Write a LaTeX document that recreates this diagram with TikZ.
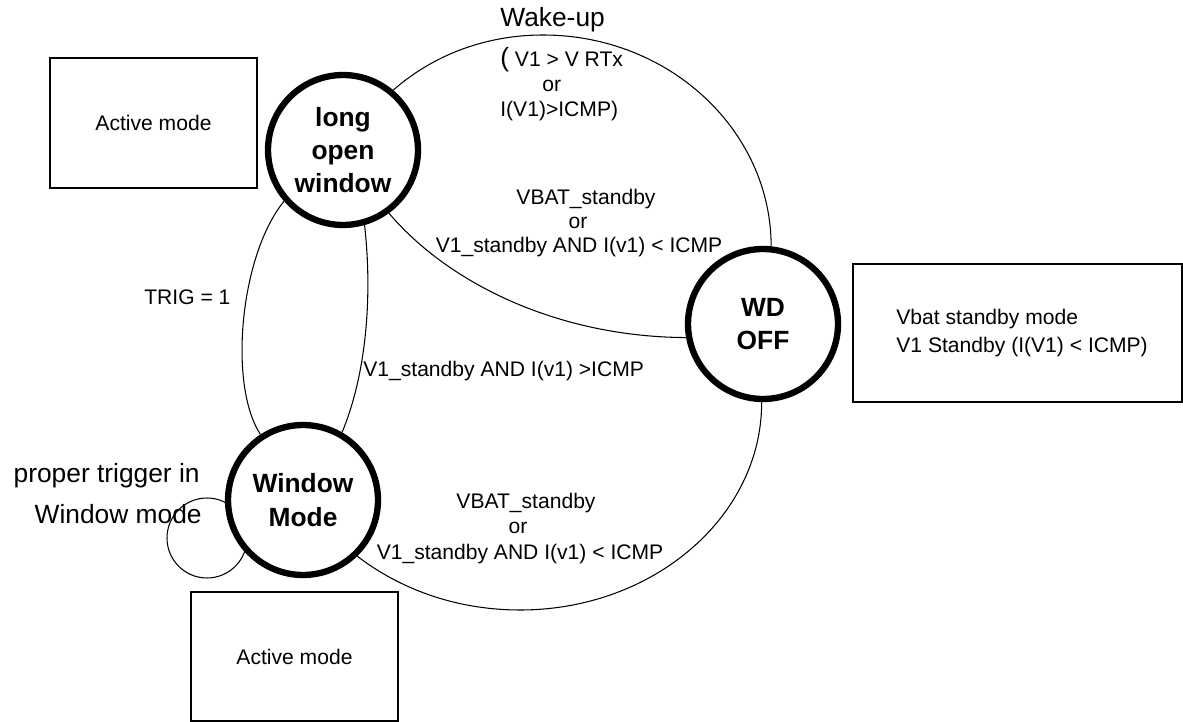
\documentclass[tikz,border=0pt]{standalone}
\usepackage{fontspec}
\setmainfont{Liberation Sans}
\usetikzlibrary{calc,backgrounds}
\begin{document}
\begin{tikzpicture}[x=0.02cm,y=-0.02cm,
  state/.style={circle, draw, line width=3.6pt, fill=white, minimum size=3cm,
    inner sep=0pt, align=center, font=\fontsize{15}{19}\selectfont\bfseries},
  modebox/.style={rectangle, draw, line width=1.1pt, inner sep=0pt,
    font=\fontsize{12}{14}\selectfont},
  edge/.style={line width=0.6pt},
  lbl/.style={inner sep=0pt, font=\fontsize{12}{14}\selectfont},
  biglbl/.style={inner sep=0pt, font=\fontsize{15}{19}\selectfont}]
\useasboundingbox (0,0) rectangle (1183,722);

% mode boxes
\node[modebox, minimum width=4.14cm, minimum height=2.6cm] (act1) at (153.5,123) {Active mode};
\node[modebox, minimum width=4.14cm, minimum height=2.58cm] (act2) at (294.5,656.5) {Active mode};
\node[modebox, minimum width=6.58cm, minimum height=2.76cm] (vb) at (1017.5,333) {};
\node[lbl, anchor=west, align=left, font=\fontsize{12}{15.9}\selectfont] (vbtxt) at ($(vb.west)+(44,0)$)
  {Vbat standby mode\\V1 Standby (I(V1) < ICMP)};

% states
\node[state] (low) at (343,150) {long\\open\\window};
\node[state] (wm) at (303,500) {Window\\Mode};
\node[state] (wd) at (763,324) {WD\\OFF};

% self loop of the window mode state
\begin{pgfonlayer}{background}
  \draw[edge] ($(wm.center)+(-96,38)$) circle[radius=0.8cm];
\end{pgfonlayer}

% transitions
\draw[edge] (low.50) .. controls (435,53.5) and (488,35) .. (543,35)
  .. controls (669,35) and (771,130) .. (wd.84);
\draw[edge] (low.306) .. controls (450,285) and (560,337) .. (wd.190);
\draw[edge] (low.221) .. controls (240,255) and (228,385) .. (wm.123);
\draw[edge] (low.286) .. controls (372,290) and (368,370) .. (wm.60);
\draw[edge] (wm.314) .. controls (404,592) and (461,610) .. (520,610)
  .. controls (654,610) and (762,516) .. (wd.269);

% transition labels
\node[biglbl, anchor=base west] (wk0) at (500,27) {Wake-up};
\node[lbl, anchor=base west] (wk1) at (500,67) {{\fontsize{15}{19}\selectfont(} V1 > V RTx};
\node[lbl, anchor=base west] (wk2) at (542,92) {or};
\node[lbl, anchor=base west] (wk3) at (500,117) {I(V1)>ICMP)};

\node[lbl, anchor=base] (sb1) at (586,205) {VBAT\_standby};
\node[lbl, anchor=base] (sb2) at (578,229) {or};
\node[lbl, anchor=base] (sb3) at (579,253) {V1\_standby AND I(v1) < ICMP};

\node[lbl, anchor=base west] (hi) at (363,377) {V1\_standby AND I(v1) >ICMP};
\node[lbl, anchor=base west] (trig) at (144,305) {TRIG = 1};

\node[lbl, anchor=base] (bs1) at (526,509) {VBAT\_standby};
\node[lbl, anchor=base] (bs2) at (518,534) {or};
\node[lbl, anchor=base] (bs3) at (520,560) {V1\_standby AND I(v1) < ICMP};

\node[biglbl, anchor=base east] (pt1) at (200,483) {proper trigger in};
\node[biglbl, anchor=base east] (pt2) at (202,523) {Window mode};
\end{tikzpicture}
\end{document}
